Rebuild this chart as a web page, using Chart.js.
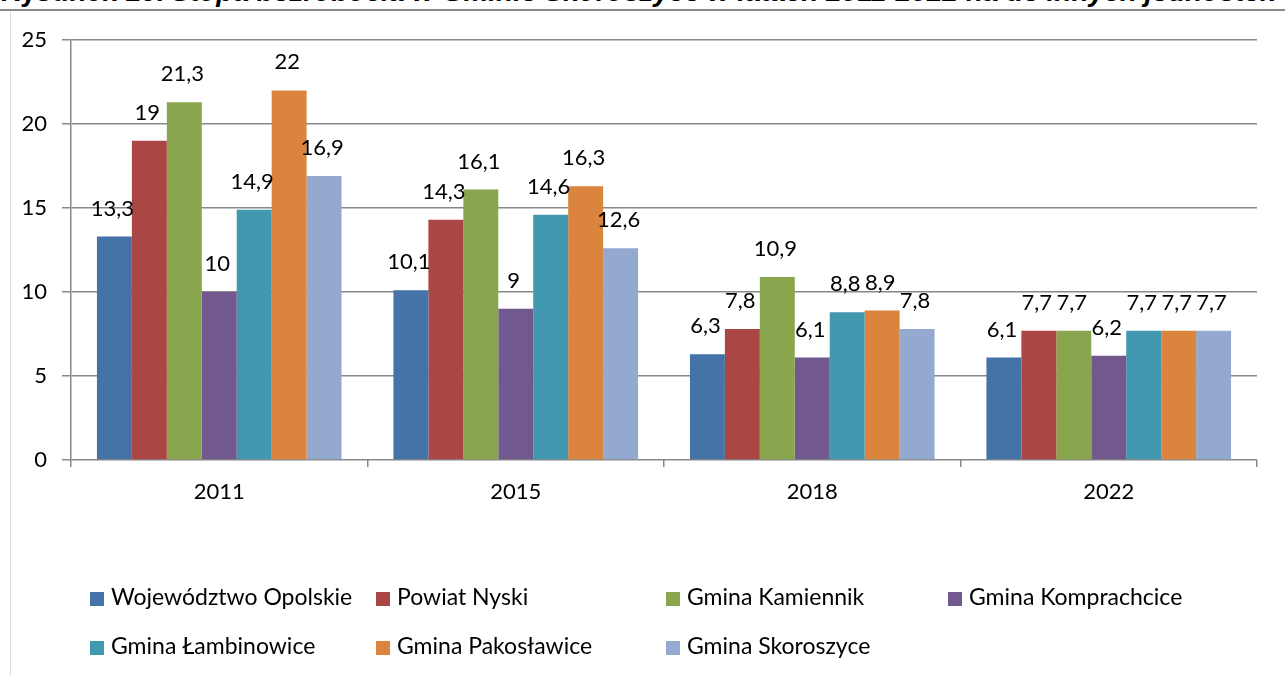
<!DOCTYPE html>
<html>
<head>
<meta charset="utf-8">
<script src="https://cdn.jsdelivr.net/npm/chart.js@4.4.0/dist/chart.umd.min.js"></script>
<style>
  body { margin: 0; background: #fff; }
  #wrap { position: relative; width: 1285px; height: 675px; overflow: hidden; }
  #title { position: absolute; left: 0; top: 0; width: 1285px; height: 9px; overflow: hidden; }
  #title span { position: absolute; left: 0; top: -24px; white-space: nowrap; font-family: "Liberation Sans", Arial, sans-serif; font-size: 28px; color: #000; }
  #rule { position: absolute; left: 0; top: 9px; width: 1285px; height: 2px; background: #8a8a8a; }
  #side { position: absolute; left: 10px; top: 11px; width: 1px; height: 664px; background: #dcdcdc; }
  canvas { position: absolute; left: 0; top: 0; }
</style>
</head>
<body>
<div id="wrap">
  <div id="title"><span><b>Rysunek 16.</b> <i><b>Stopa bezrobocia w Gminie Skoroszyce w latach 2011-2022 na tle innych jednostek</b></i></span></div>
  <div id="rule"></div>
  <div id="side"></div>
  <canvas id="chart" width="1285" height="675"></canvas>
</div>
<script>
const years = ['2011', '2015', '2018', '2022'];
const seriesNames = ['Województwo Opolskie', 'Powiat Nyski', 'Gmina Kamiennik', 'Gmina Komprachcice',
  'Gmina Łambinowice', 'Gmina Pakosławice', 'Gmina Skoroszyce'];
const wojewodztwo = [13.3, 10.1, 6.3, 6.1];
const powiatNyski = [19, 14.3, 7.8, 7.7];
const kamiennik = [21.3, 16.1, 10.9, 7.7];
const komprachcice = [10, 9, 6.1, 6.2];
const lambinowice = [14.9, 14.6, 8.8, 7.7];
const pakoslawice = [22, 16.3, 8.9, 7.7];
const skoroszyce = [16.9, 12.6, 7.8, 7.7];
const yTicks = [0, 5, 10, 15, 20, 25];

const colors = ['#4572A7', '#AA4643', '#89A54E', '#71588F', '#4198AF', '#DB843D', '#93A9CF'];
const values = [wojewodztwo, powiatNyski, kamiennik, komprachcice, lambinowice, pakoslawice, skoroszyce];

const FONT = 'Lato, "Noto Sans", sans-serif';

// value labels above each bar, polish decimal comma
const barLabels = {
  id: 'barLabels',
  afterDatasetsDraw(chart) {
    const ctx = chart.ctx;
    ctx.save();
    ctx.font = '22px ' + FONT;
    ctx.fillStyle = '#000';
    ctx.textAlign = 'center';
    ctx.textBaseline = 'middle';
    chart.data.datasets.forEach((ds, i) => {
      chart.getDatasetMeta(i).data.forEach((bar, j) => {
        ctx.fillText(String(ds.data[j]).replace('.', ','), bar.x - 2, bar.y - 28);
      });
    });
    ctx.restore();
  }
};

// legend laid out in fixed columns like the original
const gridLegend = {
  id: 'gridLegend',
  afterDraw(chart) {
    const ctx = chart.ctx;
    const cols = [90, 376, 666, 948];
    const rows = [598, 647];
    ctx.save();
    ctx.font = '23px ' + FONT;
    ctx.textBaseline = 'middle';
    ctx.textAlign = 'left';
    chart.data.datasets.forEach((ds, i) => {
      const x = cols[i % 4];
      const y = rows[Math.floor(i / 4)];
      ctx.fillStyle = ds.backgroundColor;
      ctx.fillRect(x, y - 6, 14, 14);
      ctx.fillStyle = '#000';
      ctx.fillText(ds.label, x + 21, y);
    });
    ctx.restore();
  }
};

new Chart(document.getElementById('chart'), {
  type: 'bar',
  data: {
    labels: years,
    datasets: seriesNames.map((name, i) => ({
      label: name,
      data: values[i],
      backgroundColor: colors[i],
      categoryPercentage: 0.825,
      barPercentage: 1
    }))
  },
  options: {
    responsive: false,
    animation: false,
    events: [],
    layout: { padding: { top: 40, right: 28, bottom: 165, left: 0 } },
    plugins: { legend: { display: false }, tooltip: { enabled: false } },
    scales: {
      x: {
        afterFit(s) { s.height = 50; },
        grid: { offset: true, drawOnChartArea: false, drawTicks: true, tickLength: 7, color: '#888', lineWidth: 1.5 },
        border: { display: false },
        ticks: { color: '#000', font: { size: 22, family: FONT }, padding: 12 }
      },
      y: {
        min: 0,
        max: 25,
        afterFit(s) { s.width = 71; },
        afterBuildTicks(s) { s.ticks = yTicks.map(v => ({ value: v })); },
        grid: { color: '#888', lineWidth: 1.5, tickLength: 9 },
        border: { display: true, color: '#888', width: 1.5 },
        ticks: { color: '#000', font: { size: 22, family: FONT }, padding: 15 }
      }
    }
  },
  plugins: [barLabels, gridLegend]
});
</script>
</body>
</html>
